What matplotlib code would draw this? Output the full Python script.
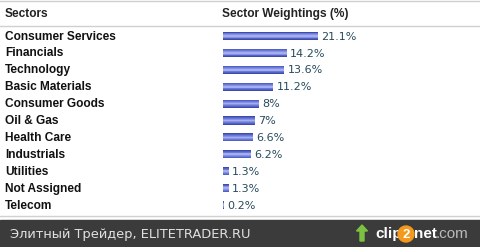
import matplotlib
matplotlib.use("Agg")
import matplotlib.pyplot as plt
from matplotlib.patches import Circle, FancyArrow

sectors = ["Consumer Services", "Financials", "Technology", "Basic Materials",
           "Consumer Goods", "Oil & Gas", "Health Care", "Industrials",
           "Utilities", "Not Assigned", "Telecom"]
weights = [21.1, 14.2, 13.6, 11.2, 8, 7, 6.6, 6.2, 1.3, 1.3, 0.2]
labels = ["21.1%", "14.2%", "13.6%", "11.2%", "8%", "7%", "6.6%", "6.2%",
          "1.3%", "1.3%", "0.2%"]

W, H = 481, 247
fig = plt.figure(figsize=(W / 100, H / 100), dpi=100)
fig.patch.set_facecolor("white")

# overlay in pixel coords for header, lines, footer
bg = fig.add_axes([0, 0, 1, 1])
bg.set_xlim(0, W)
bg.set_ylim(H, 0)
bg.axis("off")

bg.axhline(1, color="#d0d0d0", lw=1)
bg.axhline(26, color="#d0d0d0", lw=1)
bg.axhline(216, color="#d0d0d0", lw=1)
bg.text(5, 14, "Sectors", fontsize=8.6, fontweight="bold", color="#222222",
        family="Liberation Sans", va="center")
bg.text(222, 14, "Sector Weightings (%)", fontsize=8.6, fontweight="bold",
        color="#222222", family="Liberation Sans", va="center")

# footer
bg.add_patch(plt.Rectangle((0, 220), W, 27, color="#3b3b3b", zorder=1))
bg.text(10, 234, "Элитный Трейдер, ELITETRADER.RU", fontsize=9.4, color="#e0e0e0",
        va="center", zorder=3)
bg.add_patch(FancyArrow(362, 241, 0, -10, width=4, head_width=11, head_length=6,
                        color="#7cc242", zorder=3))
bg.text(375, 234, "clip", fontsize=11, fontweight="bold", color="white",
        family="Liberation Sans", va="center", zorder=3)
bg.add_patch(Circle((406, 234), 8, color="#f39a1e", zorder=3))
bg.text(406, 234.5, "2", fontsize=9.5, fontweight="bold", color="white",
        family="Liberation Sans", va="center", ha="center", zorder=4)
bg.text(414, 234, "net", fontsize=11, fontweight="bold", color="white",
        family="Liberation Sans", va="center", zorder=3)
bg.text(436, 234, ".com", fontsize=11, color="#bbbbbb",
        family="Liberation Sans", va="center", zorder=3)

# bar area: 4.5 px per percent, rows 16.9 px apart
x0, y_top, y_bot = 223, 27.5, 213.5
ax = fig.add_axes([x0 / W, 1 - y_bot / H, (W - x0) / W, (y_bot - y_top) / H])
ax.set_xlim(0, (W - x0) / 4.5)
ax.set_ylim(len(sectors) - 0.5, -0.5)
ax.axis("off")
ax.patch.set_alpha(0)

pos = list(range(len(sectors)))
layers = [(0.48, "#3e4ca8"), (0.40, "#5261c4"), (0.30, "#6a79d6"),
          (0.20, "#8591e4"), (0.10, "#a3adef")]
for hgt, col in layers:
    ax.barh(pos, weights, height=hgt, color=col, left=0)
for i, (w, lab) in enumerate(zip(weights, labels)):
    ax.text(w + 0.7, i + 0.04, lab, fontsize=8, color="#264a5c", va="center")

for i, s in enumerate(sectors):
    bg.text(5, 36.5 + 16.9 * i, s, fontsize=8.6, fontweight="bold",
            color="#111111", family="Liberation Sans", va="center")

fig.savefig("out.png", dpi=100, facecolor="white")
